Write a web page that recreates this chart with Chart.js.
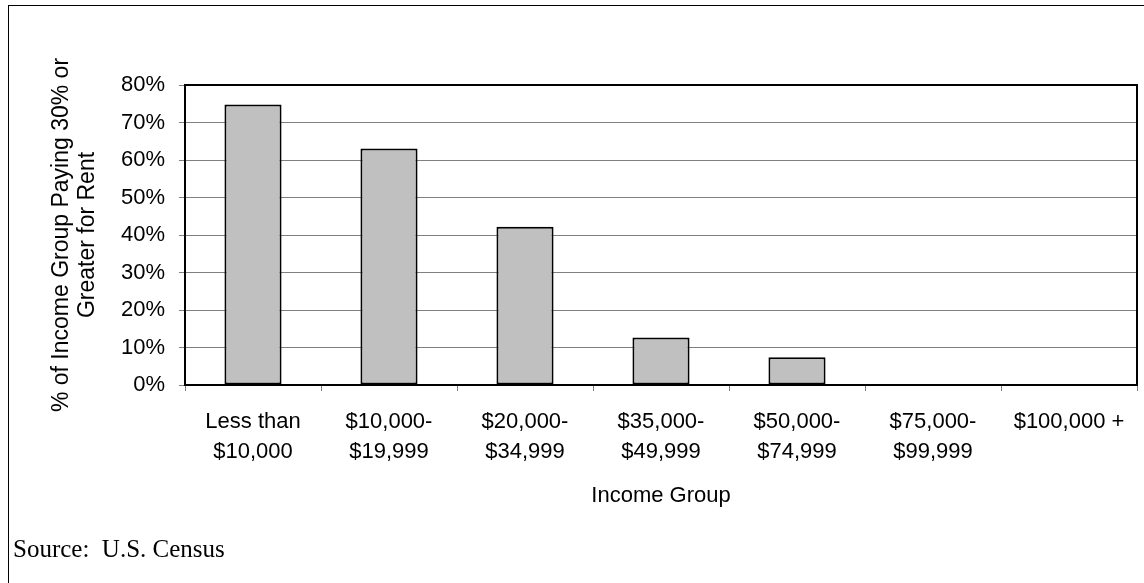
<!DOCTYPE html>
<html>
<head>
<meta charset="utf-8">
<script src="https://cdn.jsdelivr.net/npm/chart.js@4/dist/chart.umd.min.js"></script>
<style>
  html, body { margin: 0; padding: 0; background: #fff; overflow: hidden; }
  #frame {
    position: absolute; left: 8px; top: 5px;
    width: 1200px; height: 700px;
    border: 1px solid #000;
  }
  #wrap { position: absolute; left: 0; top: 0; width: 1144px; height: 583px; }
  #source {
    position: absolute; left: 13px; top: 535px;
    font-family: 'Liberation Serif', 'Times New Roman', serif;
    font-size: 25px; color: #000;
  }
</style>
</head>
<body>
<div id="frame"></div>
<div id="wrap"><canvas id="chart"></canvas></div>
<div id="source">Source:&nbsp; U.S. Census</div>
<script>
const incomeGroups = [
    ['Less than', '$10,000'],
    ['$10,000-', '$19,999'],
    ['$20,000-', '$34,999'],
    ['$35,000-', '$49,999'],
    ['$50,000-', '$74,999'],
    ['$75,000-', '$99,999'],
    '$100,000 +'
];
const pctPayingRent = [74.8, 63.1, 42.2, 12.7, 7.4, 0, 0];
const yTitle = ['% of Income Group Paying 30% or', 'Greater for Rent'];
const xTitle = 'Income Group';

const FONT = "'Liberation Sans', Arial, sans-serif";

// border around the plot area, drawn over the bars
const plotBorder = {
    id: 'plotBorder',
    afterDatasetsDraw(chart) {
        const a = chart.chartArea;
        const ctx = chart.ctx;
        ctx.save();
        ctx.strokeStyle = '#000';
        ctx.lineWidth = 2;
        ctx.strokeRect(a.left, a.top, a.right - a.left, a.bottom - a.top);
        ctx.restore();
    }
};

new Chart(document.getElementById('chart'), {
    type: 'bar',
    data: {
        labels: incomeGroups,
        datasets: [{
            data: pctPayingRent,
            backgroundColor: '#c0c0c0',
            borderColor: '#000',
            borderWidth: 2,
            borderSkipped: false,
            categoryPercentage: 1,
            barPercentage: 0.42
        }]
    },
    options: {
        responsive: true,
        maintainAspectRatio: false,
        animation: false,
        layout: { padding: { top: 85, right: 7, left: 37, bottom: 65 } },
        plugins: {
            legend: { display: false },
            tooltip: { enabled: false }
        },
        scales: {
            x: {
                afterFit: axis => { axis.height = 133; },
                grid: {
                    drawOnChartArea: false,
                    color: '#808080',
                    tickLength: 6
                },
                border: { display: false },
                ticks: {
                    color: '#000',
                    padding: 16,
                    maxRotation: 0,
                    font: { family: FONT, size: 22, lineHeight: 1.36 }
                },
                title: {
                    display: true,
                    text: xTitle,
                    color: '#000',
                    padding: { top: 0, bottom: 9 },
                    font: { family: FONT, size: 22 }
                }
            },
            y: {
                min: 0,
                max: 80,
                afterFit: axis => { axis.width = 148; },
                grid: {
                    color: '#808080',
                    tickLength: 6
                },
                border: { display: false },
                ticks: {
                    stepSize: 10,
                    color: '#000',
                    padding: 14,
                    font: { family: FONT, size: 22 },
                    callback: v => v + '%'
                },
                title: {
                    display: true,
                    text: yTitle,
                    color: '#000',
                    padding: { top: 11, bottom: 0 },
                    font: { family: FONT, size: 23, lineHeight: 1.15 }
                }
            }
        }
    },
    plugins: [plotBorder]
});
</script>
</body>
</html>
